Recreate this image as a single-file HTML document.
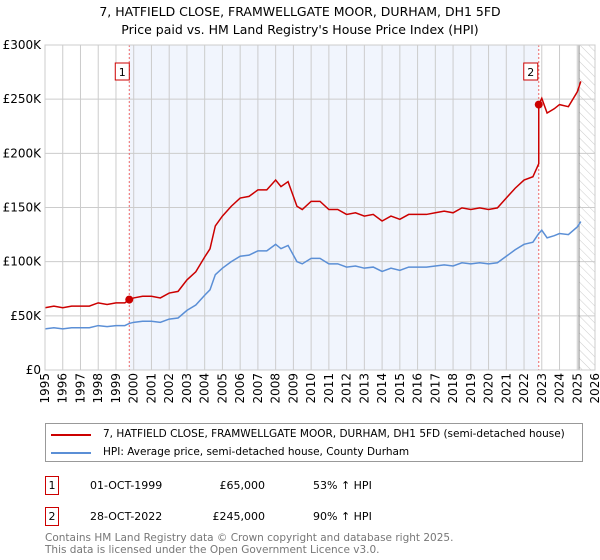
<!DOCTYPE html>
<html><head><meta charset="utf-8"><style>
body{margin:0;background:#fff;font-family:"DejaVu Sans","Liberation Sans",sans-serif;}
#wrap{position:relative;width:600px;height:560px;overflow:hidden}
.t{position:absolute;white-space:nowrap;font-size:11px;color:#000}
</style></head><body><div id="wrap">
<div class="t" style="left:0;width:600px;text-align:center;top:4px;font-size:12.5px">7, HATFIELD CLOSE, FRAMWELLGATE MOOR, DURHAM, DH1 5FD</div>
<div class="t" style="left:0;width:600px;text-align:center;top:22px;font-size:12.5px">Price paid vs. HM Land Registry's House Price Index (HPI)</div>
<svg id="chart" width="600" height="420" style="position:absolute;left:0;top:0" font-family="DejaVu Sans, Liberation Sans, sans-serif" font-size="12"></svg>
<div style="position:absolute;left:45px;top:423px;width:538px;height:39px;border:1px solid #999;box-sizing:border-box">
<div style="position:absolute;left:5px;top:4px;height:14px">
<div style="position:absolute;left:0;top:6px;width:40px;height:2px;background:#cc0000"></div>
<div class="t" style="left:52px;top:0;font-size:10.5px">7, HATFIELD CLOSE, FRAMWELLGATE MOOR, DURHAM, DH1 5FD (semi-detached house)</div></div>
<div style="position:absolute;left:5px;top:22px;height:14px">
<div style="position:absolute;left:0;top:6px;width:40px;height:2px;background:#5b8fd6"></div>
<div class="t" style="left:52px;top:0;font-size:10.5px">HPI: Average price, semi-detached house, County Durham</div></div>
</div>
<div>
<div class="t" style="left:45px;top:476px;width:14px;height:19px;border:1px solid #cc0000;box-sizing:border-box;text-align:center;line-height:17px">1</div>
<div class="t" style="left:90px;top:479px">01-OCT-1999</div>
<div class="t" style="left:185px;width:80px;text-align:right;top:479px">£65,000</div>
<div class="t" style="left:313px;top:479px">53% ↑ HPI</div></div>
<div>
<div class="t" style="left:45px;top:507px;width:14px;height:19px;border:1px solid #cc0000;box-sizing:border-box;text-align:center;line-height:17px">2</div>
<div class="t" style="left:90px;top:510px">28-OCT-2022</div>
<div class="t" style="left:185px;width:80px;text-align:right;top:510px">£245,000</div>
<div class="t" style="left:313px;top:510px">90% ↑ HPI</div></div>
<div class="t" style="left:45px;top:532px;color:#777;line-height:12px;font-size:10.5px">Contains HM Land Registry data © Crown copyright and database right 2025.<br>This data is licensed under the Open Government Licence v3.0.</div>
</div>
<script>
const hpiYears=[1995,1995.5,1996,1996.5,1997,1997.5,1998,1998.5,1999,1999.5,1999.75,2000,2000.5,2001,2001.5,2002,2002.5,2003,2003.5,2004,2004.3,2004.6,2005,2005.5,2006,2006.5,2007,2007.5,2008,2008.3,2008.7,2009.2,2009.5,2010,2010.5,2011,2011.5,2012,2012.5,2013,2013.5,2014,2014.5,2015,2015.5,2016,2016.5,2017,2017.5,2018,2018.5,2019,2019.5,2020,2020.5,2021,2021.5,2022,2022.5,2022.83,2023,2023.3,2023.7,2024,2024.5,2025,2025.2];
const hpiValues=[38,39,38,39,39,39,41,40,41,41,43,44,45,45,44,47,48,55,60,69,74,88,94,100,105,106,110,110,116,112,115,100,98,103,103,98,98,95,96,94,95,91,94,92,95,95,95,96,97,96,99,98,99,98,99,105,111,116,118,126,129,122,124,126,125,132,137];
const saleYears=[1999.75,2022.83];
const salePrices=[65,245];
const saleLabels=["1","2"];
const yTicks=[0,50,100,150,200,250,300];
const yTickLabels=["£0","£50K","£100K","£150K","£200K","£250K","£300K"];
const xTicks=[1995,1996,1997,1998,1999,2000,2001,2002,2003,2004,2005,2006,2007,2008,2009,2010,2011,2012,2013,2014,2015,2016,2017,2018,2019,2020,2021,2022,2023,2024,2025,2026];
const L=45,R=595,T=45,B=370;
const xs=y=>L+(y-1995)/(2026-1995)*(R-L);
const ys=v=>B-v/300*(B-T);
const svg=document.getElementById('chart');const NS='http://www.w3.org/2000/svg';
function mk(tag,attrs,parent){const e=document.createElementNS(NS,tag);for(const k in attrs)e.setAttribute(k,attrs[k]);(parent||svg).appendChild(e);return e;}
let sh=mk('rect',{x:xs(saleYears[0]),y:T,width:xs(saleYears[1])-xs(saleYears[0]),height:B-T,fill:'#eef3fd',opacity:0.8});


const defs=mk('defs',{});const pat=mk('pattern',{id:'h',width:6,height:6,patternUnits:'userSpaceOnUse',patternTransform:'rotate(-45)'},defs);
mk('line',{x1:0,y1:0,x2:0,y2:6,stroke:'#ccc','stroke-width':1},pat);
let hz=mk('rect',{x:xs(2025.1),y:T,width:R-xs(2025.1),height:B-T,fill:'url(#h)'});


xTicks.forEach((y,i)=>{let g=mk('line',{x1:xs(y),x2:xs(y),y1:T,y2:B,stroke:'#ccc'});


let t=mk('text',{x:0,y:0,transform:`translate(${xs(y)+4},${B+3}) rotate(-90)`,'text-anchor':'end'});t.textContent=y;

});
yTicks.forEach((v,i)=>{let g=mk('line',{x1:L,x2:R,y1:ys(v),y2:ys(v),stroke:'#ccc'});


let t=mk('text',{x:L-4,y:ys(v)+4,'text-anchor':'end'});t.textContent=yTickLabels[i];

});
let vl=mk('line',{x1:xs(2025.1),x2:xs(2025.1),y1:T,y2:B,stroke:'#888'});


function hpiAt(y){for(let i=1;i<hpiYears.length;i++)if(y<=hpiYears[i]){const f=(y-hpiYears[i-1])/(hpiYears[i]-hpiYears[i-1]);return hpiValues[i-1]+f*(hpiValues[i]-hpiValues[i-1]);}return hpiValues[hpiValues.length-1];}
saleYears.forEach((y,i)=>{let l=mk('line',{x1:xs(y),x2:xs(y),y1:T,y2:B,stroke:'#e66','stroke-dasharray':'2,2'});


let bx=xs(y)-14-(i==0?0:1);
let r=mk('rect',{x:bx,y:63,width:14,height:17,fill:'#fff',stroke:'#cc0000'});


let t=mk('text',{x:bx+7,y:76,'text-anchor':'middle','font-size':11});t.textContent=saleLabels[i];

});
let hp=mk('polyline',{points:hpiYears.map((y,i)=>xs(y)+','+ys(hpiValues[i])).join(' '),fill:'none',stroke:'#5b8fd6','stroke-width':1.5});


const pts=[];hpiYears.forEach((y,i)=>{const s=y<saleYears[1]?0:1;const f=salePrices[s]/hpiAt(saleYears[s]);if(s==1&&pts.length&&pts[pts.length-1][2]==0){pts.push([saleYears[1],hpiAt(saleYears[1])*salePrices[0]/hpiAt(saleYears[0]),0]);pts.push([saleYears[1],salePrices[1],1]);}pts.push([y,hpiValues[i]*f,s]);});
let pl=mk('polyline',{points:pts.map(p=>xs(p[0])+','+ys(p[1])).join(' '),fill:'none',stroke:'#cc0000','stroke-width':1.5});


saleYears.forEach((y,i)=>{let c=mk('circle',{cx:xs(y),cy:ys(salePrices[i]),r:4,fill:'#cc0000'});

});
let ax=mk('rect',{x:L,y:T,width:R-L,height:B-T,fill:'none',stroke:'#ccc'});


</script></body></html>
